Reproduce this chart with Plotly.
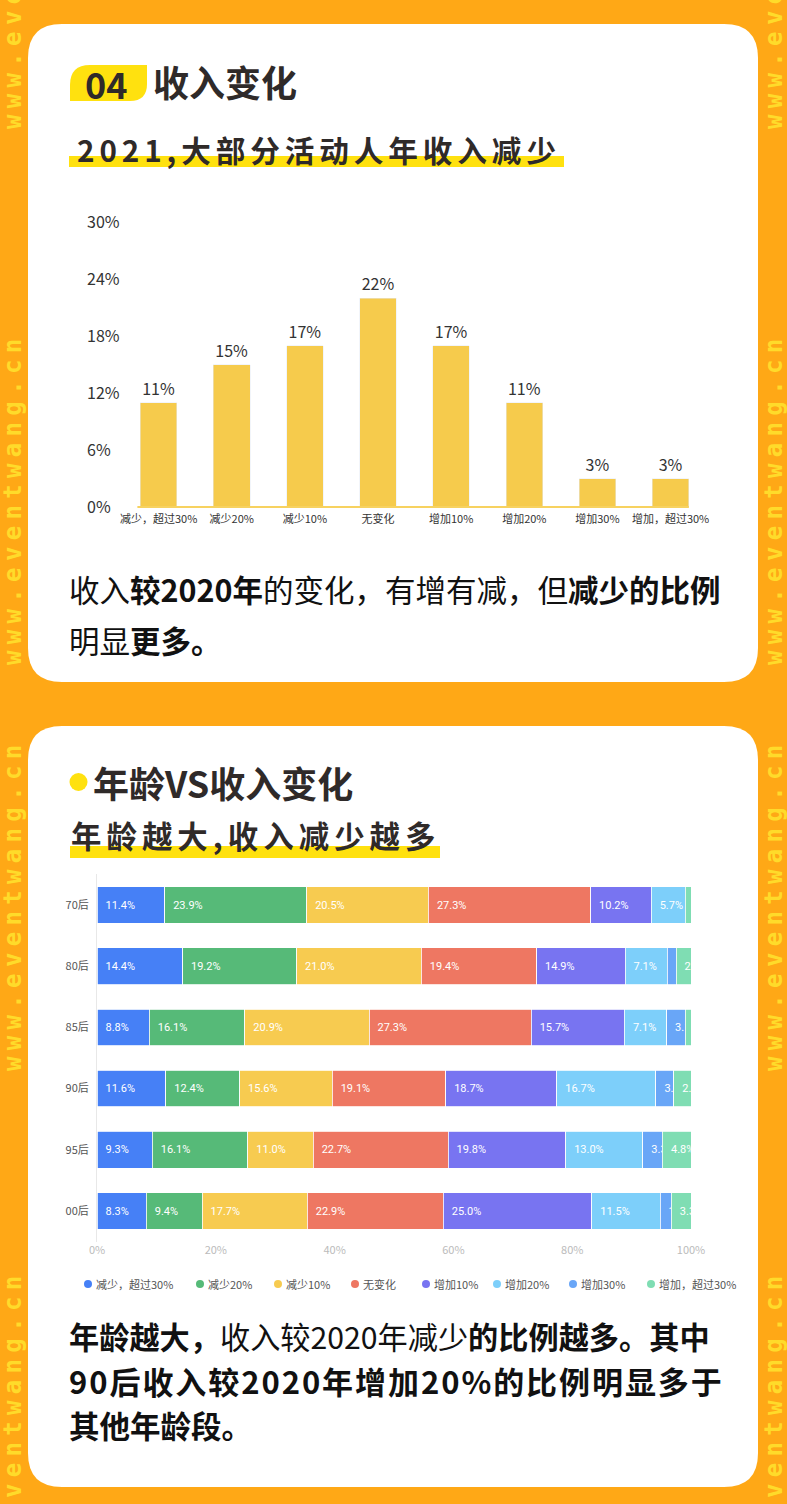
import plotly.graph_objects as go

W, H = 787, 1504

# ---- 收入变化 ----
change_labels = ["减少，超过30%", "减少20%", "减少10%", "无变化", "增加10%", "增加20%", "增加30%", "增加，超过30%"]
change_pct = [11, 15, 17, 22, 17, 11, 3, 3]
pct_ticks = [0, 6, 12, 18, 24, 30]

# ---- 年龄VS收入变化 ----
age_groups = ["70后", "80后", "85后", "90后", "95后", "00后"]
dec_over30 = [11.4, 14.4, 8.8, 11.6, 9.3, 8.3]
dec_20 = [23.9, 19.2, 16.1, 12.4, 16.1, 9.4]
dec_10 = [20.5, 21.0, 20.9, 15.6, 11.0, 17.7]
no_change = [27.3, 19.4, 27.3, 19.1, 22.7, 22.9]
inc_10 = [10.2, 14.9, 15.7, 18.7, 19.8, 25.0]
inc_20 = [5.7, 7.1, 7.1, 16.7, 13.0, 11.5]
inc_30 = [0.0, 1.5, 3.1, 3.0, 3.3, 1.9]
inc_over30 = [1.0, 2.5, 1.0, 2.9, 4.8, 3.3]
share_ticks = [0, 20, 40, 60, 80, 100]

series = [dec_over30, dec_20, dec_10, no_change, inc_10, inc_20, inc_30, inc_over30]
colors = ["#4680F6", "#56BA78", "#F7CB50", "#EE7762", "#7874F1", "#7DCFFA", "#69A6F7", "#7FDDB3"]

ORANGE = "#FFA816"
YELLOW = "#FFE10F"
DARK = "#2F2A29"
CJK = "Noto Sans CJK SC"


def px(x):
    return x / W


def py(y):
    return 1 - y / H


def rounded(x0, y0, x1, y1, r):
    p = [(x0 + r, y0), (x1 - r, y0), (x1, y0), (x1, y0 + r), (x1, y1 - r), (x1, y1), (x1 - r, y1),
         (x0 + r, y1), (x0, y1), (x0, y1 - r), (x0, y0 + r), (x0, y0), (x0 + r, y0)]
    q = [f"{px(a):.5f},{py(b):.5f}" for a, b in p]
    return (f"M{q[0]} L{q[1]} Q{q[2]} {q[3]} L{q[4]} Q{q[5]} {q[6]} L{q[7]} "
            f"Q{q[8]} {q[9]} L{q[10]} Q{q[11]} {q[12]} Z")


def spaced(s, sep="\u2006"):
    return sep.join(s)


fig = go.Figure()

fig.add_trace(go.Bar(
    x=change_labels, y=change_pct, width=0.5, marker_color="#F6CB4C",
    text=[f"{v}%" for v in change_pct], textposition="outside", cliponaxis=False,
    textfont=dict(size=16, color="#333333", family=CJK),
    xaxis="x", yaxis="y", showlegend=False, hoverinfo="skip"))

for name, vals, col in zip(change_labels, series, colors):
    labels = ["\u00a0\u00a0" + f"{v:.1f}%" if v >= 1.8 else "" for v in vals]
    fig.add_trace(go.Bar(
        y=age_groups, x=vals, orientation="h", name=name,
        marker=dict(color=col, line=dict(color="white", width=0.8)),
        text=labels, textposition="inside", insidetextanchor="start",
        textangle=0, constraintext="none",
        textfont=dict(size=11, color="white", family="Roboto"),
        xaxis="x2", yaxis="y2", showlegend=False, hoverinfo="skip"))

shapes = [
    dict(type="path", path=rounded(28, 24, 758, 682, 34), fillcolor="white", line_width=0,
         xref="paper", yref="paper", layer="below"),
    dict(type="path", path=rounded(28, 726, 758, 1487, 34), fillcolor="white", line_width=0,
         xref="paper", yref="paper", layer="below"),
    # badge 04
    dict(type="path", xref="paper", yref="paper", fillcolor=YELLOW, line_width=0, layer="below",
         path=(f"M{px(70)},{py(101)} L{px(70)},{py(85)} Q{px(70)},{py(65)} {px(90)},{py(65)} "
               f"L{px(147)},{py(65)} L{px(147)},{py(84)} Q{px(147)},{py(101)} {px(130)},{py(101)} Z")),
    dict(type="rect", xref="paper", yref="paper", x0=px(69), x1=px(564), y0=py(167), y1=py(156),
         fillcolor=YELLOW, line_width=0, layer="below"),
    dict(type="circle", xref="paper", yref="paper", x0=px(69.5), x1=px(87.5), y0=py(791), y1=py(773),
         fillcolor=YELLOW, line_width=0, layer="below"),
    dict(type="rect", xref="paper", yref="paper", x0=px(70), x1=px(440), y0=py(858), y1=py(846),
         fillcolor=YELLOW, line_width=0, layer="below"),
    # baseline of the first chart
    dict(type="line", xref="x", yref="y", x0=-0.29, x1=len(change_labels) - 0.75, y0=0, y1=0,
         line=dict(color="#F7D260", width=2)),
]

legend_x = [88, 200, 278, 355, 426, 497, 573, 651]
for lx, col in zip(legend_x, colors):
    shapes.append(dict(type="circle", xref="paper", yref="paper", x0=px(lx - 4), x1=px(lx + 4),
                       y0=py(1288), y1=py(1280), fillcolor=col, line_width=0))

ann = []


def text(x, y, s, size, color=DARK, anchor="left", family=CJK, angle=0):
    ann.append(dict(x=px(x), y=py(y), xref="paper", yref="paper", text=s, showarrow=False,
                    xanchor=anchor, yanchor="middle", textangle=angle,
                    font=dict(size=size, color=color, family=family)))


text(106, 83, "<b>04</b>", 36, anchor="center")
text(151, 81, "<b>收入变化</b>", 36)
text(75, 149, "<b>" + spaced("2021,大部分活动人年收入减少") + "</b>", 29.6)
text(67, 589, "收入<b>较2020年</b>的变化，有增有减，但<b>减少的比例</b>", 30.5, color="#111111")
text(67, 640, "明显<b>更多。</b>", 30.5, color="#111111")

text(91, 782, "<b>年龄VS收入变化</b>", 36)
text(69, 835, "<b>" + spaced("年龄越大,收入减少越多") + "</b>", 30.4)
text(67, 1336, "<b>年龄越大，</b>收入较2020年减少<b>的比例越多。其中</b>", 30.2, color="#111111")
text(67, 1380, "<b>" + spaced("90后收入较2020年增加20%的比例明显多于", "\u200a") + "</b>", 31,
     color="#111111")
text(67, 1425, "<b>其他年龄段。</b>", 30.5, color="#111111")

for lx, name in zip(legend_x, change_labels):
    text(lx + 6, 1284, name, 11, color="#555555")

# side watermark
gap = '<span style="font-size:10.5px"> </span>'
mark = "<b>" + gap.join("www.eventwang.cn") + "</b>"
for yc in [-34, 502, 908, 1439]:
    for xc in [13, 774]:
        text(xc, yc, mark, 24, color="#FFDB2A", anchor="center", family="DejaVu Sans Mono", angle=-90)

fig.update_layout(
    width=W, height=H, margin=dict(l=0, r=0, t=0, b=0, autoexpand=False),
    paper_bgcolor=ORANGE, plot_bgcolor="rgba(0,0,0,0)",
    barmode="stack", shapes=shapes, annotations=ann, showlegend=False,
    font=dict(family=CJK, color="#333333"),
    xaxis=dict(domain=[px(84), px(720)], anchor="free", position=py(509), type="category",
               range=[(84 - 158.6) / 73.14, (720 - 158.6) / 73.14],
               showgrid=False, zeroline=False, showline=False, ticks="", automargin=False,
               tickfont=dict(size=11, color="#333333"), ticklabelstandoff=2),
    yaxis=dict(domain=[py(527.9), py(201.1)], anchor="x", range=[-2.2, 32.2],
               tickvals=pct_ticks, ticktext=[f"{v}%" for v in pct_ticks], automargin=False,
               ticklabelposition="inside", showgrid=False, zeroline=False, showline=False,
               tickfont=dict(size=16, color="#333333")),
    xaxis2=dict(domain=[px(97), px(691)], anchor="y2", range=[0, 100], automargin=False,
                tickvals=share_ticks, ticktext=[f"{v}%" for v in share_ticks],
                showgrid=False, zeroline=False, showline=False, ticks="",
                tickfont=dict(size=11, color="#BBBBBB")),
    yaxis2=dict(domain=[py(1241.6), py(874.4)], anchor="x2", type="category", automargin=False,
                categoryarray=age_groups, categoryorder="array", range=[5.5, -0.5],
                showgrid=False, zeroline=False, showline=True, linecolor="#E8E8E8", linewidth=1,
                ticks="", tickfont=dict(size=11, color="#555555"), ticklabelstandoff=5),
    bargap=0.4,
)

fig.write_html(
    "out.html",
    config={"displayModeBar": False},
    post_script=("document.body.style.margin='0';"
                 "document.body.style.overflow='hidden';"
                 "document.documentElement.style.overflow='hidden';"),
)
